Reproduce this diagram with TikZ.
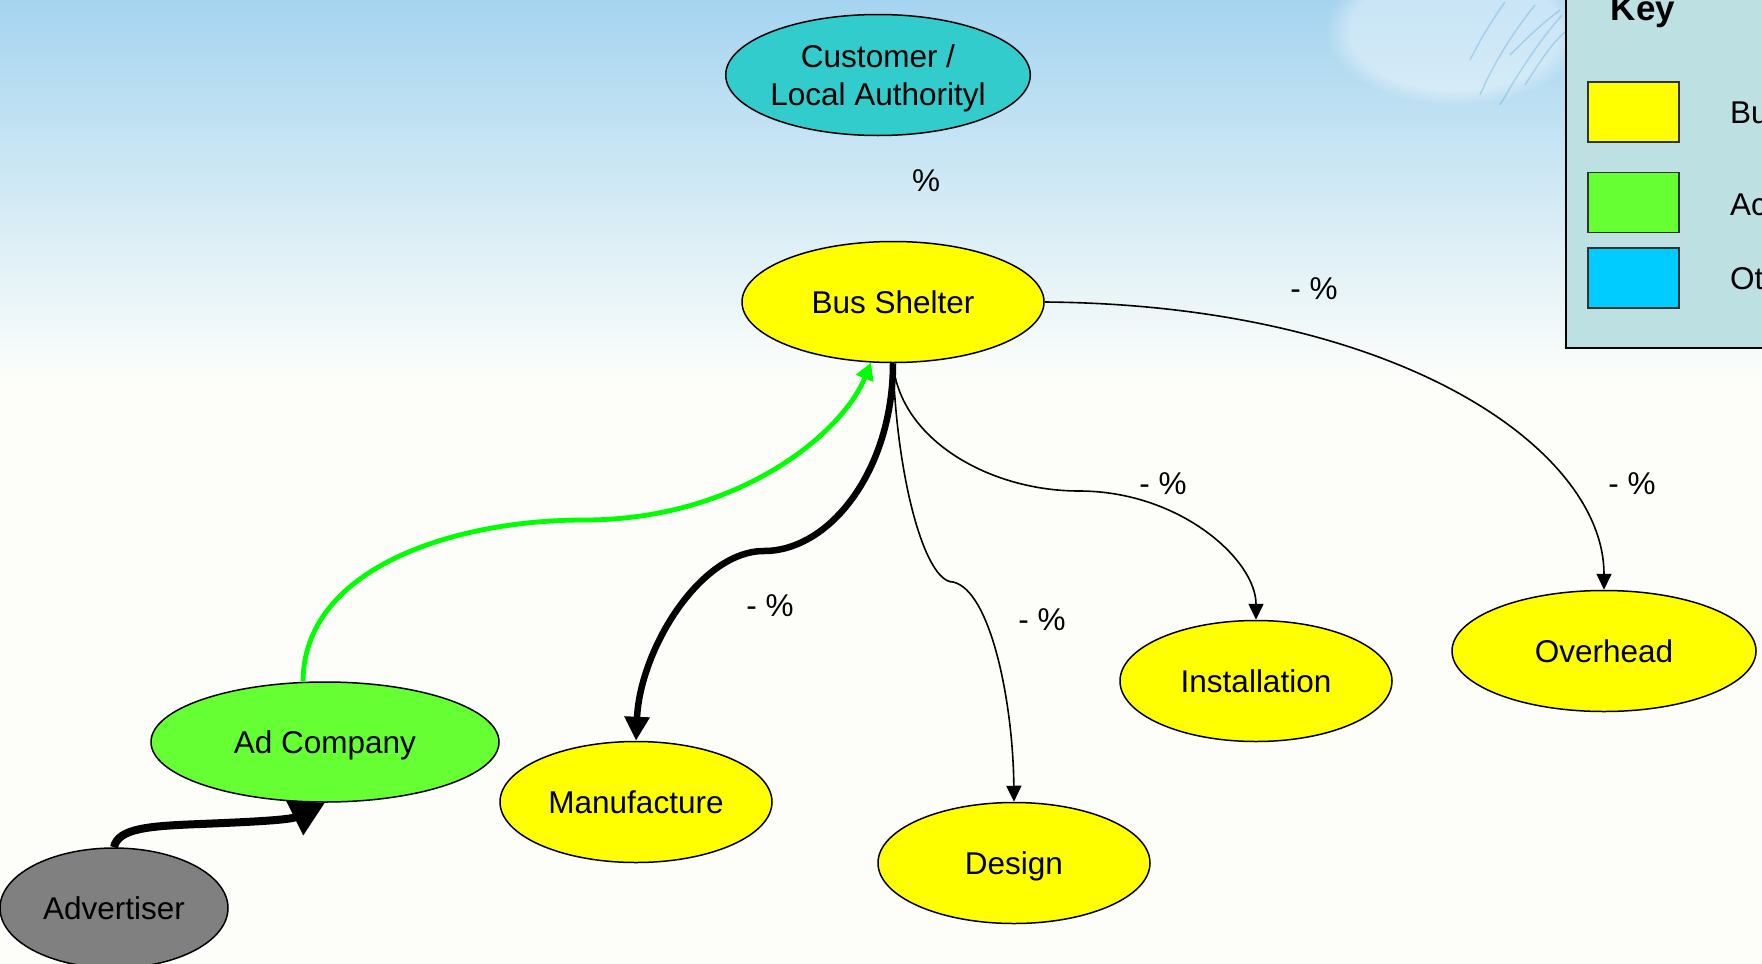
\documentclass[tikz,border=0pt]{standalone}
\usepackage{fontspec}
\setmainfont{Liberation Sans}
\usetikzlibrary{shapes.geometric,arrows.meta,fadings}
\definecolor{skytop}{RGB}{165,212,240}
\definecolor{bgbottom}{RGB}{253,254,250}
\definecolor{custcol}{HTML}{33CCCC}
\definecolor{yel}{HTML}{FFFF00}
\definecolor{grn}{HTML}{66FF33}
\definecolor{gry}{HTML}{808080}
\definecolor{keycyan}{HTML}{00CCFF}
\definecolor{keybg}{RGB}{189,224,227}
\definecolor{lgreen}{HTML}{00FF00}
\definecolor{feather}{RGB}{90,165,210}
\begin{document}
\begin{tikzpicture}[x=1pt,y=-1pt,
  ell/.style={ellipse, draw=black, line width=1.5pt, inner sep=0pt,
    font=\fontsize{31.5}{38}\selectfont, align=center, text depth=0pt},
  one/.style={text height=22.5pt},
  lbl/.style={font=\fontsize{31.5}{38}\selectfont, inner sep=0pt},
  conn/.style={draw=black, line width=1.6pt, -{Triangle[length=16pt,width=15pt]}},
  heavy/.style={draw=black, line width=6.5pt, -{Triangle[length=24pt,width=24pt]}},
  grnconn/.style={draw=lgreen, line width=4.8pt, -{Triangle[length=17pt,width=18pt]}},
  advconn/.style={draw=black, line width=8pt, -{Triangle[length=34pt,width=37pt]}},
  keysq/.style={draw=black!80, line width=1.5pt, minimum width=91pt, minimum height=60pt, inner sep=0pt},
  keytxt/.style={font=\fontsize{31.5}{38}\selectfont, anchor=base west, inner sep=0pt}
]
\useasboundingbox (0,0) rectangle (1762,964);
\clip (0,0) rectangle (1762,964);
% background
\fill[bgbottom] (0,0) rectangle (1762,964);
\shade[top color=skytop, bottom color=bgbottom] (0,0) rectangle (1762,380);
\fill[white, opacity=0.4, path fading=circle with fuzzy edge 20 percent] (1455,30) ellipse (130 and 75);
\begin{scope}[feather, opacity=0.35, line width=1.5pt]
  \draw (1480,95) .. controls (1495,60) and (1515,30) .. (1535,5);
  \draw (1500,105) .. controls (1520,70) and (1540,40) .. (1562,15);
  \draw (1525,85) .. controls (1538,65) and (1550,45) .. (1565,32);
  \draw (1470,60) .. controls (1480,40) and (1492,20) .. (1505,2);
  \draw (1510,55) .. controls (1525,40) and (1540,25) .. (1560,10);
\end{scope}

% nodes
\node[ell, fill=custcol, minimum width=302pt, minimum height=121pt] (cust) at (878,75) {Customer /\\Local Authorityl};
\node[ell, one, fill=yel, minimum width=302pt, minimum height=121pt] (bus) at (893,302) {Bus Shelter};
\node[ell, one, fill=grn, minimum width=348pt, minimum height=120pt] (adco) at (325,742) {Ad Company};
\node[ell, one, fill=gry, minimum width=228pt, minimum height=120pt] (adv) at (114,908) {Advertiser};
\node[ell, one, fill=yel, minimum width=272pt, minimum height=121pt] (man) at (636,802) {Manufacture};
\node[ell, one, fill=yel, minimum width=272pt, minimum height=121pt] (des) at (1014,863) {Design};
\node[ell, one, fill=yel, minimum width=272pt, minimum height=121pt] (inst) at (1256,681) {Installation};
\node[ell, one, fill=yel, minimum width=304pt, minimum height=121pt] (ovh) at (1604,651) {Overhead};

% connectors
\draw[heavy] (bus.south) .. controls (893,470) and (830,551) .. (764,551)
  .. controls (700,551) and (640,650) .. (man.north);
\draw[conn] (bus.south) .. controls (897,480) and (925,582) .. (953,582)
  .. controls (990,590) and (1013,700) .. (des.north);
\draw[conn] (bus.south) .. controls (900,440) and (990,491) .. (1079,491)
  .. controls (1180,491) and (1256,560) .. (inst.north);
\draw[conn] (bus.east) .. controls (1400,305) and (1604,450) .. (ovh.north);
\draw[grnconn] (adco.110) .. controls (303,570) and (450,520) .. (584,520)
  .. controls (740,520) and (843,432) .. (bus.250);
\draw[advconn] (adv.north) .. controls (118,828) and (150,826) .. (200,824)
  .. controls (250,822) and (290,820) .. (adco.south);

% labels
\node[lbl] (l0) at (926,181) {\%};
\node[lbl] (l1) at (1314,289) {- \%};
\node[lbl] (l2) at (1163,484) {- \%};
\node[lbl] (l3) at (1632,484) {- \%};
\node[lbl] (l4) at (770,606) {- \%};
\node[lbl] (l5) at (1042,620) {- \%};

% key
\draw[line width=2pt, fill=keybg] (1566,-10) rectangle (1800,348);
\node[font=\fontsize{35}{40}\selectfont\bfseries, anchor=base, inner sep=0pt] (keyt) at (1643,20) {Key};
\node[keysq, fill=yel] (k1) at (1633.5,112) {};
\node[keysq, fill=grn] (k2) at (1633.5,202.5) {};
\node[keysq, fill=keycyan] (k3) at (1633.5,278) {};
\node[keytxt] (kt1) at (1730,123) {Bu};
\node[keytxt] (kt2) at (1730,215) {Ac};
\node[keytxt] (kt3) at (1730,289) {Ot};
\end{tikzpicture}
\end{document}
